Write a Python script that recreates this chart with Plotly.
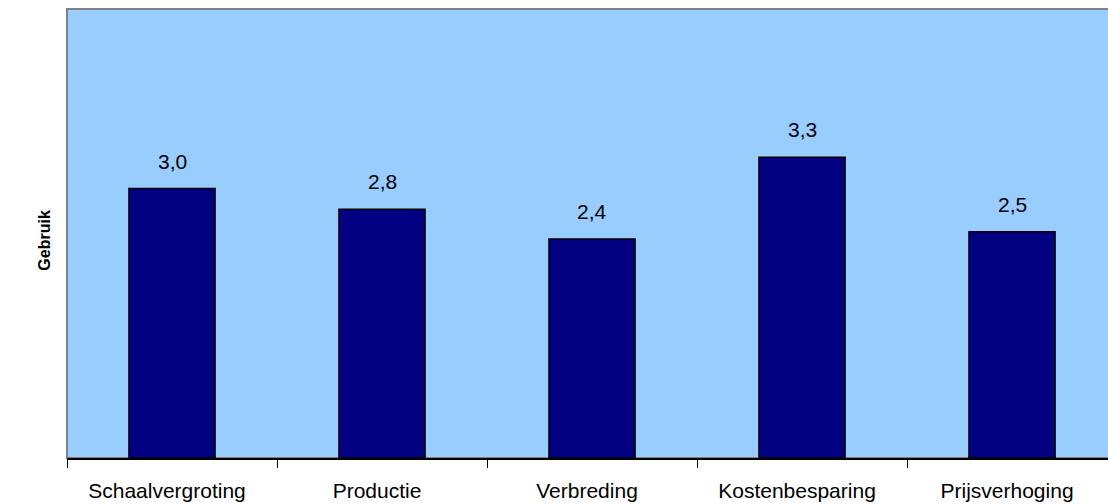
import plotly.graph_objects as go

categories = ["Schaalvergroting", "Productie", "Verbreding", "Kostenbesparing", "Prijsverhoging"]
values = [3.0, 2.77, 2.44, 3.35, 2.52]
value_labels = ["3,0", "2,8", "2,4", "3,3", "2,5"]
y_title = "Gebruik"

FONT = "Liberation Sans, Arial, sans-serif"

fig = go.Figure()
fig.add_trace(go.Bar(
    x=categories, y=values,
    width=0.41,
    marker=dict(color="#000080", line=dict(color="#000000", width=1.5)),
    hoverinfo="skip",
))

for c, v, t in zip(categories, values, value_labels):
    fig.add_annotation(x=c, y=v, text=t, showarrow=False, yanchor="bottom",
                       yshift=14, font=dict(family=FONT, size=21, color="#000000"))

fig.add_annotation(xref="paper", yref="paper", x=0, y=0.484, xanchor="center", yanchor="middle",
                   xshift=-22, textangle=-90, showarrow=False,
                   text="<b>" + y_title + "</b>", font=dict(family=FONT, size=16, color="#000000"))

# plot-area border (gray top/left/right)
fig.add_shape(type="rect", xref="paper", yref="paper", x0=0, x1=1.01, y0=0, y1=1,
              line=dict(color="#808080", width=2), layer="below")

fig.update_layout(
    width=1108, height=504,
    margin=dict(l=67, r=0, t=9, b=46),
    paper_bgcolor="#FFFFFF",
    plot_bgcolor="#99CCFF",
    showlegend=False,
    font=dict(family=FONT, size=21, color="#000000"),
    xaxis=dict(
        range=[-0.5, 4.457],
        showgrid=False, zeroline=False,
        showline=True, linecolor="#000000", linewidth=1.5,
        ticks="outside", tickson="boundaries", ticklen=8, tickcolor="#000000", tickwidth=1,
        tickfont=dict(family=FONT, size=21, color="#000000"),
        ticklabelstandoff=13,
        ticklabelshift=-5,
        automargin=False,
    ),
    yaxis=dict(
        range=[0, 5],
        showgrid=False, zeroline=False, showticklabels=False, ticks="",
        showline=False,
        automargin=False,
    ),
)

fig.write_html("out.html", config={"displayModeBar": False},
               post_script="document.body.style.margin='0';document.body.style.overflow='hidden';")
